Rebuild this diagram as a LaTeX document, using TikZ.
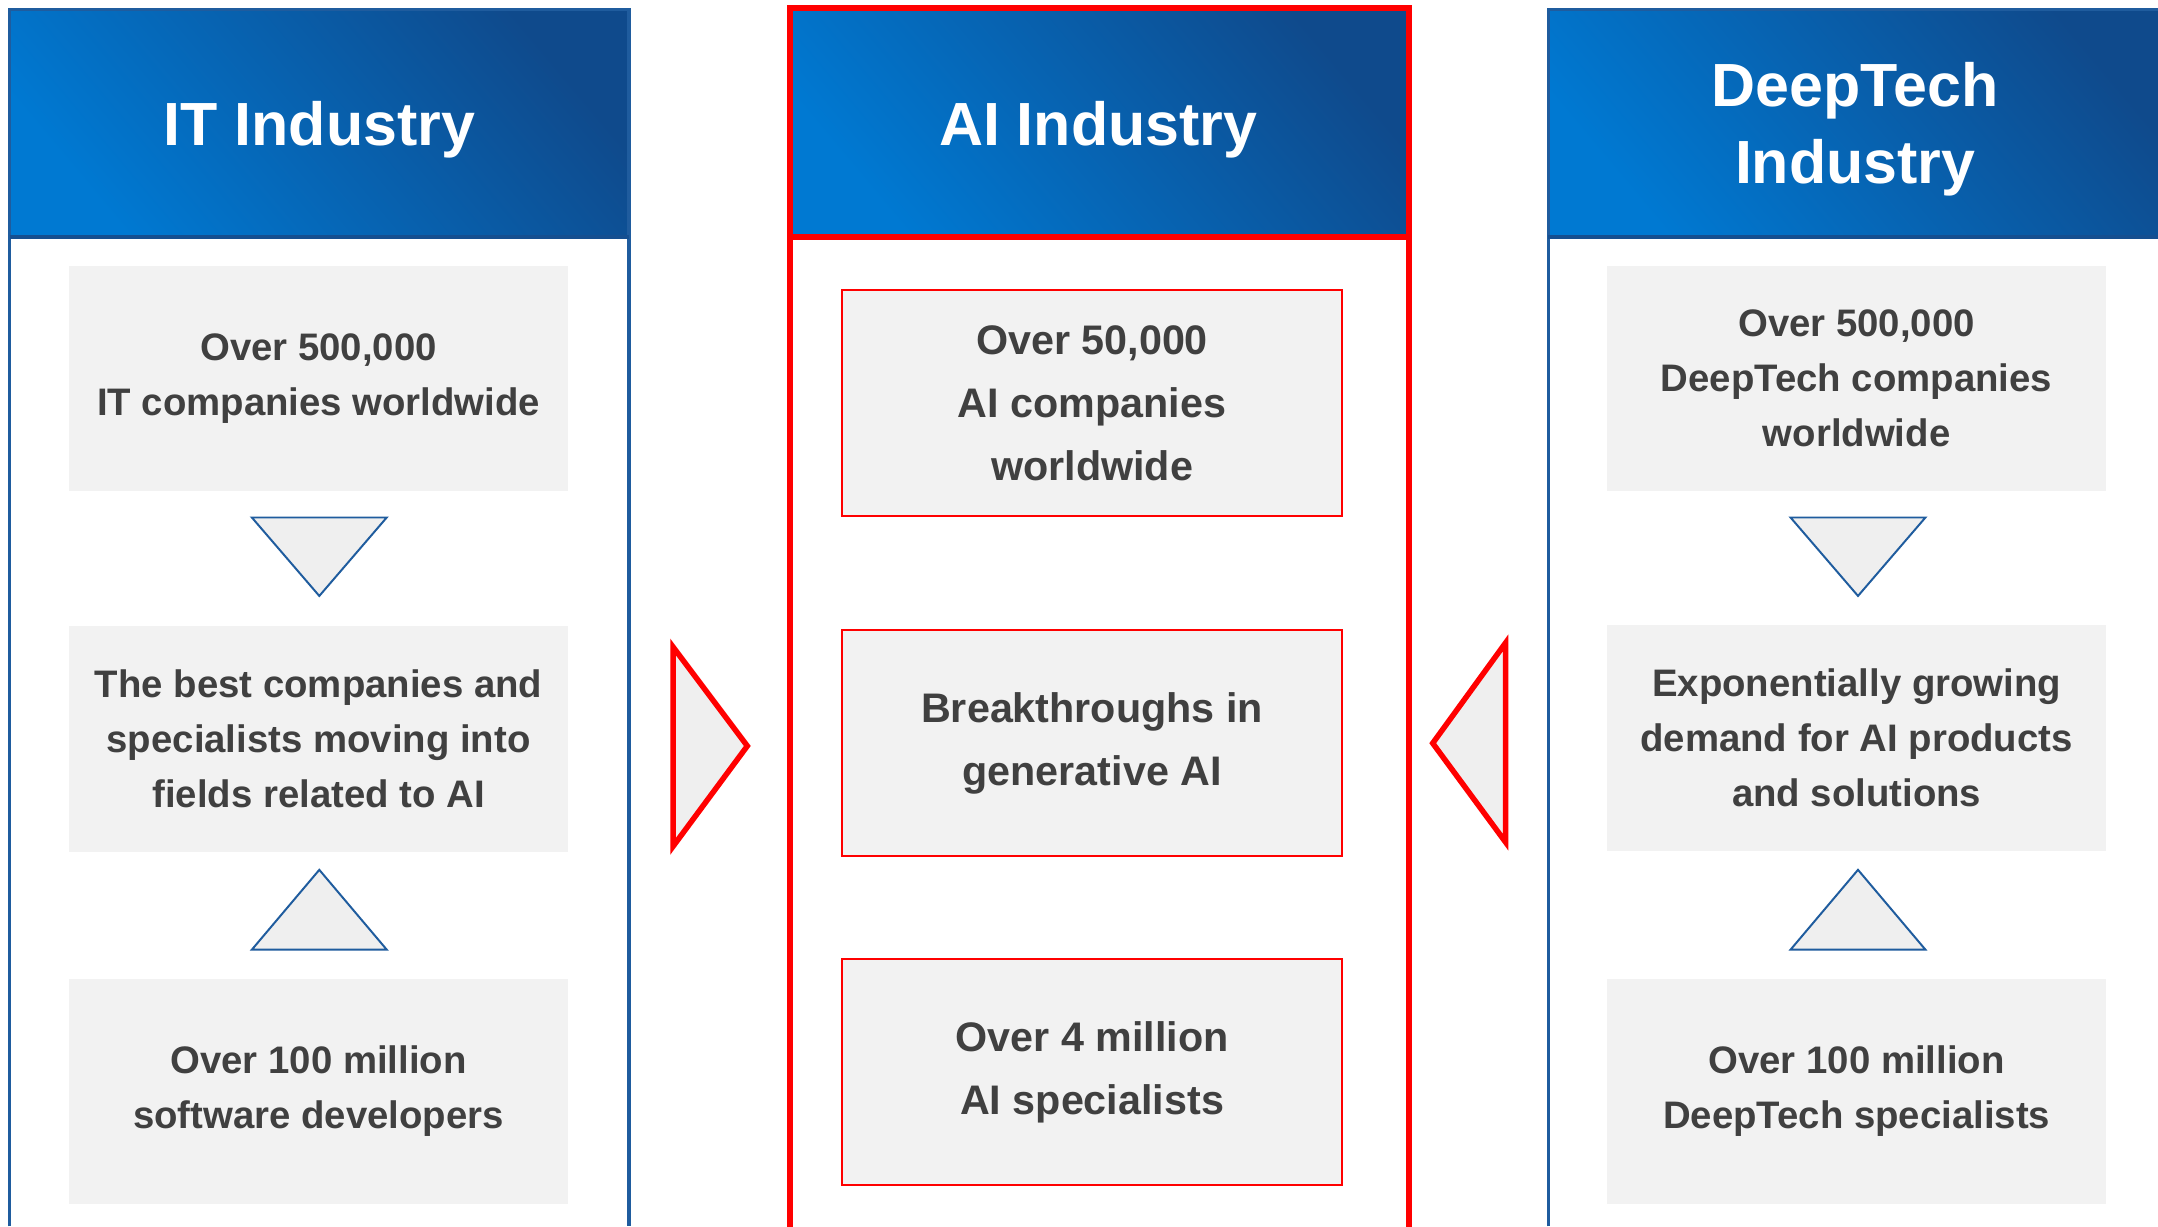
\documentclass[tikz,border=0pt]{standalone}
\usepackage{fontspec}
\setmainfont{Liberation Sans}
\definecolor{hdrlight}{HTML}{0079D2}
\definecolor{hdrdark}{HTML}{0F4A8C}
\definecolor{panelblue}{HTML}{1F5C9E}
\definecolor{sepblue}{HTML}{154F90}
\definecolor{boxgray}{HTML}{F2F2F2}
\definecolor{trigray}{HTML}{EFEFEF}
\definecolor{txtgray}{HTML}{404040}
\definecolor{alertred}{HTML}{FF0000}
\tikzset{
  header/.style={top color=hdrdark,bottom color=hdrlight,shading angle=-50},
  hdrtext/.style={text=white,font=\bfseries\fontsize{31}{39}\selectfont,align=center},
  factbox/.style={fill=boxgray,text=txtgray,align=center,minimum width=254.1pt,minimum height=114.8pt,inner sep=0pt,font=\bfseries\fontsize{19.5}{28}\selectfont},
  aibox/.style={factbox,draw=alertred,line width=1pt,font=\bfseries\fontsize{21}{32}\selectfont},
  flowtri/.style={draw=panelblue,fill=trigray,line width=1pt},
  pushtri/.style={draw=alertred,fill=trigray,line width=2.8pt,line join=miter}
}

\begin{document}
\begin{tikzpicture}[x=0.7pt,y=-0.7pt]
\useasboundingbox (0,0) rectangle (1568,891);
\fill[white] (0,0) rectangle (1568,891);
% headers
\shade[header] (7,7) rectangle (457,172);
\shade[header] (574,6) rectangle (1024,172);
\shade[header] (1125,7) rectangle (1580,172);
\draw[panelblue,line width=1.6pt] (7,891) -- (7,7) -- (457,7) -- (457,891);
\draw[panelblue,line width=1.6pt] (1125,891) -- (1125,7) -- (1580,7);
\draw[sepblue,line width=2.2pt] (7,172) -- (457,172);
\draw[sepblue,line width=2.2pt] (1125,172) -- (1580,172);
\draw[alertred,line width=3pt] (574,895) -- (574,6) -- (1024,6) -- (1024,895);
\draw[alertred,line width=3pt] (574,172) -- (1024,172);
\node[hdrtext] (ithead) at (232,94) {IT Industry};
\node[hdrtext] (aihead) at (798,94) {AI Industry};
\node[hdrtext] (dthead) at (1348,94) {DeepTech\\Industry};
% IT column
\node[factbox] (itfirms) at (231.5,275) {Over 500,000\\IT companies worldwide};
\node[factbox] (itmove) at (231.5,537) {The best companies and\\specialists moving into\\fields related to AI};
\node[factbox] (itdevs) at (231.5,793) {Over 100 million\\software developers};
% AI column
\node[aibox] (aifirms) at (793.5,293) {Over 50,000\\AI companies\\worldwide};
\node[aibox] (aigen) at (793.5,540) {Breakthroughs in\\generative AI};
\node[aibox] (aispec) at (793.5,779) {Over 4 million\\AI specialists};
% DeepTech column
\node[factbox] (dtfirms) at (1349,275) {Over 500,000\\DeepTech companies\\worldwide};
\node[factbox] (dtdemand) at (1349,536) {Exponentially growing\\demand for AI products\\and solutions};
\node[factbox] (dtspec) at (1349,793) {Over 100 million\\DeepTech specialists};
% triangles
\foreach \x in {232,1350} {
    \filldraw[flowtri] (\x-49,376) -- (\x+49,376) -- (\x,433) -- cycle;
    \filldraw[flowtri] (\x,632) -- (\x+49,690) -- (\x-49,690) -- cycle;}
\filldraw[pushtri] (489,470) -- (543,542) -- (489,615) -- cycle;
\filldraw[pushtri] (1094,467) -- (1041,540) -- (1094,612) -- cycle;
\end{tikzpicture}
\end{document}
